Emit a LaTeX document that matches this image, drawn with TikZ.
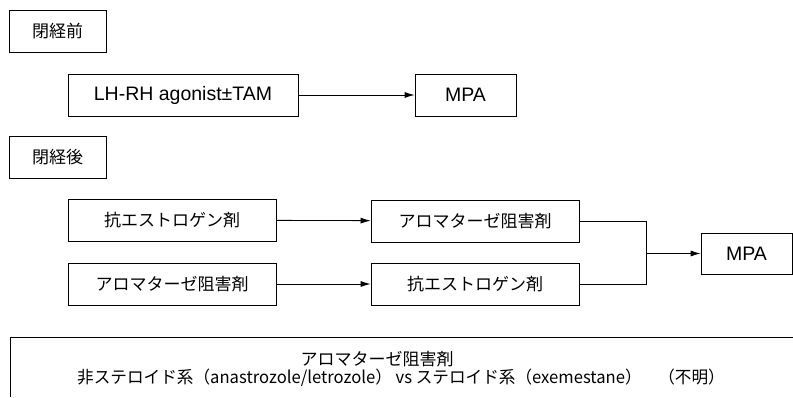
\documentclass[tikz,border=0pt]{standalone}
\usepackage{fontspec}
\setmainfont{Liberation Sans}
\newfontfamily\jp{Noto Sans CJK JP}
\usetikzlibrary{arrows.meta}
\begin{document}
\begin{tikzpicture}[x=1pt,y=-1pt,
  bx/.style={draw, line width=0.8pt, inner sep=0pt},
  jpt/.style={font=\jp\fontsize{17}{20}\selectfont},
  ent/.style={font=\fontsize{19.5}{22}\selectfont},
  arr/.style={-{Latex[length=10pt,width=6pt]}, line width=0.8pt},
  ln/.style={line width=0.8pt}]
\useasboundingbox (0,0) rectangle (793,397);
% headers
\node[bx, jpt, minimum width=97pt, minimum height=42pt] (pre) at (57.5,31) {閉経前};
\node[bx, jpt, minimum width=97pt, minimum height=42pt] (post) at (57.5,157) {閉経後};
% premenopausal row
\node[bx, ent, minimum width=230pt, minimum height=42pt] (lh) at (183,95) {LH-RH agonist±TAM};
\node[bx, ent, minimum width=101pt, minimum height=42pt] (mpa1) at (465.5,95) {MPA};
\draw[arr] (lh) -- (mpa1);
% postmenopausal rows
\node[bx, jpt, minimum width=208pt, minimum height=42pt] (a1) at (172,220) {抗エストロゲン剤};
\node[bx, jpt, minimum width=208pt, minimum height=42pt] (a2) at (172,284) {アロマターゼ阻害剤};
\node[bx, jpt, minimum width=208pt, minimum height=42pt] (b1) at (475,221) {アロマターゼ阻害剤};
\node[bx, jpt, minimum width=208pt, minimum height=42pt] (b2) at (475,284) {抗エストロゲン剤};
\node[bx, ent, minimum width=91pt, minimum height=41pt] (mpa2) at (746.5,253.5) {MPA};
\draw[arr] (a1) -- (b1);
\draw[arr] (a2) -- (b2);
\coordinate (j) at (646,253.5);
\draw[ln] (b1.east) -| (j);
\draw[ln] (b2.east) -| (j);
\draw[arr] (j) -- (mpa2);
% bottom box
\coordinate (bl) at (10,397);
\coordinate (tl) at (10,337);
\coordinate (tr) at (793,337);
\draw[ln] (bl) -- (tl) -- (tr);
\node[jpt, inner sep=0pt] (t1) at (377,359) {アロマターゼ阻害剤};
\node[jpt, inner sep=0pt] (t2) at (401,378) {\scalebox{0.978}[1]{非ステロイド系（anastrozole/letrozole） vs ステロイド系（exemestane）　（不明）}};
\end{tikzpicture}
\end{document}
